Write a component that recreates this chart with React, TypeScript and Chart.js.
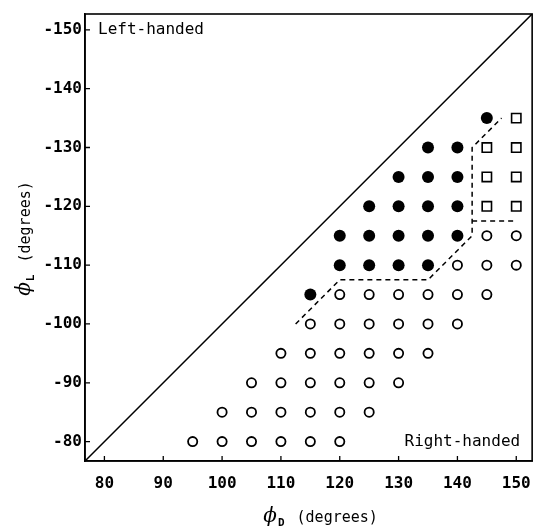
import React, { useEffect, useRef } from "react";
import { Chart, registerables } from "chart.js";

Chart.register(...registerables);

// Axis ticks
const xTicks = [80, 90, 100, 110, 120, 130, 140, 150];
const yTicks = [-80, -90, -100, -110, -120, -130, -140, -150];
const axisMin = 76.7;
const axisMax = 152.7;

// Open circles (right-handed region)
const openPhiD = [
  95, 100, 105, 110, 115, 120,
  100, 105, 110, 115, 120, 125,
  105, 110, 115, 120, 125, 130,
  110, 115, 120, 125, 130, 135,
  115, 120, 125, 130, 135, 140,
  120, 125, 130, 135, 140, 145,
  140, 145, 150,
  145, 150,
];
const openPhiL = [
  -80, -80, -80, -80, -80, -80,
  -85, -85, -85, -85, -85, -85,
  -90, -90, -90, -90, -90, -90,
  -95, -95, -95, -95, -95, -95,
  -100, -100, -100, -100, -100, -100,
  -105, -105, -105, -105, -105, -105,
  -110, -110, -110,
  -115, -115,
];

// Filled circles
const filledPhiD = [115, 120, 125, 130, 135, 120, 125, 130, 135, 140, 125, 130, 135, 140, 130, 135, 140, 135, 140, 145];
const filledPhiL = [-105, -110, -110, -110, -110, -115, -115, -115, -115, -115, -120, -120, -120, -120, -125, -125, -125, -130, -130, -135];

// Open squares
const squarePhiD = [145, 150, 145, 150, 145, 150, 150];
const squarePhiL = [-120, -120, -125, -125, -130, -130, -135];

// Dashed boundary
const boundaryPhiD = [112.5, 120, 135, 142.5, 142.5, 147.5];
const boundaryPhiL = [-100, -107.5, -107.5, -115, -130, -135];
const branchPhiD = [142.5, 150];
const branchPhiL = [-117.5, -117.5];

const zip = (xs: number[], ys: number[]) => xs.map((x, i) => ({ x, y: ys[i] }));

const MONO = '"DejaVu Sans Mono", "Liberation Mono", monospace';

const decorPlugin = {
  id: "decor",
  afterDraw(chart: any) {
    const { ctx, chartArea } = chart;
    const xs = chart.scales.x;
    const ys = chart.scales.y;
    ctx.save();
    // box
    ctx.strokeStyle = "#000";
    ctx.lineWidth = 1.6;
    ctx.strokeRect(chartArea.left, chartArea.top, chartArea.right - chartArea.left, chartArea.bottom - chartArea.top);
    // inward ticks
    ctx.lineWidth = 1.3;
    ctx.beginPath();
    xTicks.forEach((v) => {
      const px = xs.getPixelForValue(v);
      ctx.moveTo(px, chartArea.bottom);
      ctx.lineTo(px, chartArea.bottom - 5);
    });
    yTicks.forEach((v) => {
      const py = ys.getPixelForValue(v);
      ctx.moveTo(chartArea.left, py);
      ctx.lineTo(chartArea.left + 5, py);
    });
    ctx.stroke();

    // region labels
    ctx.fillStyle = "#000";
    ctx.font = `16px ${MONO}`;
    ctx.textBaseline = "middle";
    ctx.textAlign = "left";
    ctx.fillText("Left-handed", chartArea.left + 13, ys.getPixelForValue(-150));
    ctx.textAlign = "right";
    ctx.fillText("Right-handed", chartArea.right - 12, ys.getPixelForValue(-80));

    // axis titles: ϕD (degrees), ϕL (degrees)
    const drawTitle = (cx: number, cy: number, sub: string) => {
      ctx.textAlign = "left";
      ctx.textBaseline = "alphabetic";
      const phiFont = `italic 20px "DejaVu Serif", serif`;
      const subFont = `bold 11px ${MONO}`;
      const txtFont = `15px ${MONO}`;
      ctx.font = phiFont;
      const w1 = ctx.measureText("ϕ").width;
      ctx.font = subFont;
      const w2 = ctx.measureText(sub).width;
      ctx.font = txtFont;
      const gap = 12;
      const w3 = ctx.measureText("(degrees)").width;
      const total = w1 + 1 + w2 + gap + w3;
      let x = cx - total / 2;
      ctx.font = phiFont;
      ctx.fillText("ϕ", x, cy);
      x += w1 + 1;
      ctx.font = subFont;
      ctx.fillText(sub, x, cy + 4);
      x += w2 + gap;
      ctx.font = txtFont;
      ctx.fillText("(degrees)", x, cy);
    };
    drawTitle((chartArea.left + chartArea.right) / 2 + 12, chartArea.bottom + 61, "D");
    ctx.save();
    ctx.translate(30, (chartArea.top + chartArea.bottom) / 2 + 1);
    ctx.rotate(-Math.PI / 2);
    drawTitle(0, 0, "L");
    ctx.restore();
    ctx.restore();
  },
};

export default function App() {
  const ref = useRef<HTMLCanvasElement | null>(null);
  useEffect(() => {
    if (!ref.current) return;
    const chart = new Chart(ref.current, {
      type: "scatter",
      data: {
        datasets: [
          {
            label: "diagonal",
            data: [
              { x: axisMin, y: -axisMin },
              { x: axisMax, y: -axisMax },
            ],
            showLine: true,
            borderColor: "#000",
            borderWidth: 1.5,
            pointRadius: 0,
          },
          {
            label: "boundary",
            data: zip(boundaryPhiD, boundaryPhiL),
            showLine: true,
            borderColor: "#000",
            borderWidth: 1.5,
            borderDash: [5, 4],
            pointRadius: 0,
          },
          {
            label: "branch",
            data: zip(branchPhiD, branchPhiL),
            showLine: true,
            borderColor: "#000",
            borderWidth: 1.5,
            borderDash: [5, 4],
            pointRadius: 0,
          },
          {
            label: "open",
            data: zip(openPhiD, openPhiL),
            pointStyle: "circle",
            pointRadius: 4.6,
            pointBorderWidth: 1.8,
            pointBackgroundColor: "#fff",
            pointBorderColor: "#000",
          },
          {
            label: "filled",
            data: zip(filledPhiD, filledPhiL),
            pointStyle: "circle",
            pointRadius: 6,
            pointBorderWidth: 0,
            pointBackgroundColor: "#000",
            pointBorderColor: "#000",
          },
          {
            label: "square",
            data: zip(squarePhiD, squarePhiL),
            pointStyle: "rect",
            pointRadius: 6.6,
            pointBorderWidth: 1.6,
            pointBackgroundColor: "#fff",
            pointBorderColor: "#000",
          },
        ],
      },
      options: {
        animation: false,
        responsive: true,
        maintainAspectRatio: false,
        layout: { padding: { left: 0, right: 0, top: 14, bottom: 0 } },
        plugins: {
          legend: { display: false },
          tooltip: { enabled: false },
        },
        scales: {
          x: {
            type: "linear",
            min: axisMin,
            max: axisMax,
            afterBuildTicks: (s: any) => {
              s.ticks = xTicks.map((v) => ({ value: v }));
            },
            afterFit: (s: any) => {
              s.height = 66;
            },
            grid: { display: true, drawOnChartArea: false, drawTicks: false },
            border: { display: true, color: "#000", width: 1.6 },
            ticks: {
              color: "#000",
              padding: 13,
              maxRotation: 0,
              autoSkip: false,
              font: { family: MONO, size: 16, weight: "bold" },
              callback: (v: any) => String(v),
            },
          },
          y: {
            type: "linear",
            reverse: true,
            min: -axisMax,
            max: -axisMin,
            afterBuildTicks: (s: any) => {
              s.ticks = yTicks.map((v) => ({ value: v }));
            },
            afterFit: (s: any) => {
              s.width = 85;
            },
            grid: { display: true, drawOnChartArea: false, drawTicks: false },
            border: { display: true, color: "#000", width: 1.6 },
            ticks: {
              color: "#000",
              padding: 3,
              autoSkip: false,
              font: { family: MONO, size: 16, weight: "bold" },
              callback: (v: any) => String(v),
            },
          },
        },
      },
      plugins: [decorPlugin],
    });
    return () => chart.destroy();
  }, []);
  return (
    <div style={{ position: "fixed", left: 0, top: 0, width: 536, height: 527, overflow: "hidden", background: "#fff" }}>
      <div style={{ position: "absolute", left: 0, top: 0, width: 544, height: 527 }}>
        <canvas ref={ref} />
      </div>
    </div>
  );
}
